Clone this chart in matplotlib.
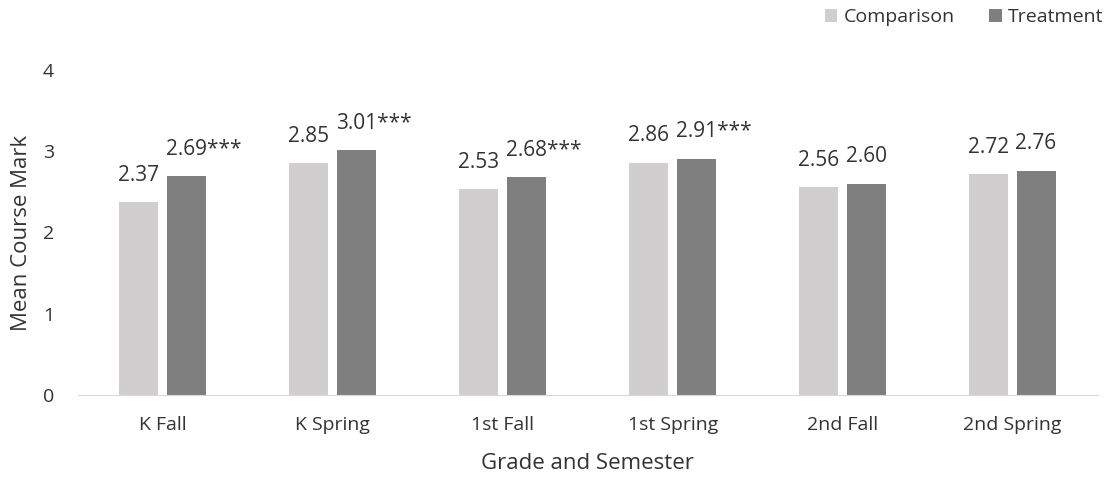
import numpy as np
import matplotlib.pyplot as plt

plt.rcParams['font.family'] = ['Open Sans', 'DejaVu Sans']

categories = ['K Fall', 'K Spring', '1st Fall', '1st Spring', '2nd Fall', '2nd Spring']
comparison = [2.37, 2.85, 2.53, 2.86, 2.56, 2.72]
treatment = [2.69, 3.01, 2.68, 2.91, 2.60, 2.76]
treat_labels = ['2.69***', '3.01***', '2.68***', '2.91***', '2.60', '2.76']

fig = plt.figure(figsize=(11.12, 4.78), dpi=100)
ax = fig.add_axes([0.070, 0.1736, 0.917, 0.68])

x = np.arange(len(categories))
w = 0.23
off = 0.142
b1 = ax.bar(x - off, comparison, w, color='#d0cece', label='Comparison')
b2 = ax.bar(x + off, treatment, w, color='#7f7f7f', label='Treatment')

for rect, v in zip(b1, comparison):
    ax.text(rect.get_x() + rect.get_width() / 2, v + 0.2, '%.2f' % v,
            ha='center', va='bottom', fontsize=15, color='#333333')
for rect, s, v in zip(b2, treat_labels, treatment):
    ax.text(rect.get_x() - 0.01, v + 0.2, s,
            ha='left', va='bottom', fontsize=15, color='#333333')

ax.set_xlim(-0.5, len(categories) - 0.5)
ax.set_ylim(0, 4)
ax.set_yticks([0, 1, 2, 3, 4])
ax.set_xticks(x)
ax.set_xticklabels(categories)
ax.tick_params(axis='both', length=0, labelsize=14, colors='#333333')
ax.tick_params(axis='x', pad=15)
ax.tick_params(axis='y', pad=17)
for side in ['top', 'right', 'left']:
    ax.spines[side].set_visible(False)
ax.spines['bottom'].set_color('#d9d9d9')
ax.set_xlabel('Grade and Semester', fontsize=16, color='#333333', labelpad=14)
ax.set_ylabel('Mean Course Mark', fontsize=16, color='#333333', labelpad=8)

fig.legend(loc='upper right', bbox_to_anchor=(1.008, 1.02), ncol=2, frameon=False,
           fontsize=14, handlelength=0.65, handleheight=0.65, handletextpad=0.3,
           columnspacing=1.8, labelcolor='#333333')

fig.savefig('out.png', dpi=100)
